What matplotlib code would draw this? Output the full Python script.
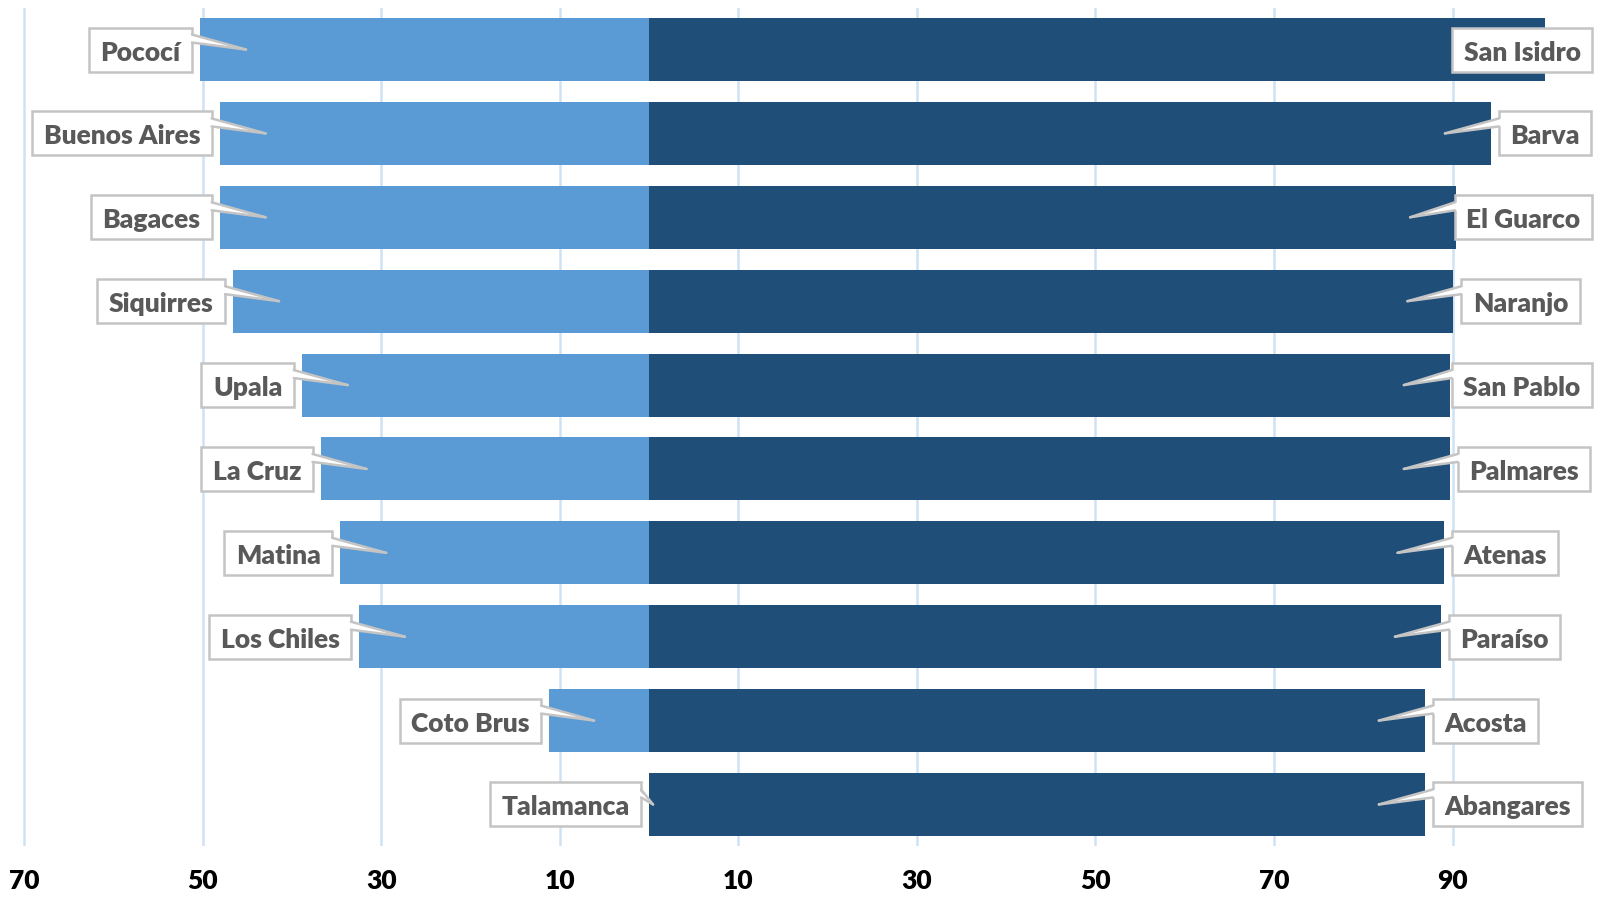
import matplotlib
matplotlib.use("Agg")
import matplotlib.pyplot as plt
from matplotlib.patches import Rectangle, Polygon
from matplotlib.lines import Line2D
import numpy as np

# ---------------- data ----------------
left_names = ["Pococí", "Buenos Aires", "Bagaces", "Siquirres", "Upala",
              "La Cruz", "Matina", "Los Chiles", "Coto Brus", "Talamanca"]
left_values = [50.3, 48.1, 48.1, 46.6, 38.9, 36.8, 34.6, 32.5, 11.2, 0.0]

right_names = ["San Isidro", "Barva", "El Guarco", "Naranjo", "San Pablo",
               "Palmares", "Atenas", "Paraíso", "Acosta", "Abangares"]
right_values = [100.4, 94.3, 90.4, 90.1, 89.7, 89.7, 89.0, 88.7, 86.9, 86.9]

tick_values = [-70, -50, -30, -10, 10, 30, 50, 70, 90]
tick_labels = ["70", "50", "30", "10", "10", "30", "50", "70", "90"]

# ---------------- style ----------------
LIGHT = "#5b9bd5"
DARK = "#1f4e79"
GRID = "#cfe2f3"
LABEL_TXT = "#595959"
LABEL_EDGE = "#c4c4c4"
FONT = "Lato"
WEIGHT = "heavy"

W, H = 1607, 900
fig = plt.figure(figsize=(W / 100, H / 100), dpi=100)
top_px, bot_px = 7.6, 846.4
ax = fig.add_axes([0, 1 - bot_px / H, 1, (bot_px - top_px) / H])
ax.set_xlim(-72.7, 107.3)
n = len(left_names)
ax.set_ylim(n - 0.5, -0.5)
y = np.arange(n)

ax.barh(y, -np.array(left_values), height=0.75, color=LIGHT, zorder=2)
ax.barh(y, right_values, height=0.75, color=DARK, zorder=2)

for s in ax.spines.values():
    s.set_visible(False)
ax.set_yticks([])
ax.set_xticks(tick_values, tick_labels)
ax.tick_params(axis="x", length=0, pad=16.5, labelsize=19, labelcolor="black")
for lab in ax.get_xticklabels():
    lab.set_fontweight(WEIGHT)
    lab.set_family(FONT)
ax.grid(axis="x", color=GRID, linewidth=1.8, zorder=0)
ax.grid(axis="y", visible=False)
ax.set_axisbelow(True)

# ---------------- callout labels ----------------
fig.canvas.draw()
renderer = fig.canvas.get_renderer()
inv = ax.transData.inverted()

BOX_H = 44.0
PADX = 11.5
GAP = 8.0
EDGE_LW = 1.8  # points
RIGHT_LIMIT = 1592.0


def px(xv, yv):
    return ax.transData.transform((xv, yv))


def dat(p):
    return inv.transform(p)


def draw_callout(name, end_x, cy, side, inset):
    t = ax.text(0, 0, name, fontsize=19, fontweight=WEIGHT, family=FONT,
                color=LABEL_TXT, ha="left", va="baseline", zorder=6)
    bb = t.get_window_extent(renderer)
    tw = bb.width
    bw = tw + 2 * PADX
    if side == "left":
        bx1 = end_x - GAP
        bx0 = bx1 - bw
        tip_x = end_x + inset
        base_x = bx1
    else:
        bx0 = end_x + GAP
        bx1 = bx0 + bw
        if bx1 > RIGHT_LIMIT:
            bx1 = RIGHT_LIMIT
            bx0 = bx1 - bw
        tip_x = end_x - inset
        base_x = bx0
    by_top = cy + BOX_H / 2
    by_bot = cy - BOX_H / 2
    tx, ty = dat((bx0 + PADX, cy - 11))
    t.set_position((tx, ty))
    (dx0, dy0) = dat((bx0, by_bot))
    (dx1, dy1) = dat((bx1, by_top))
    rect = Rectangle((dx0, dy0), dx1 - dx0, dy1 - dy0, facecolor="white",
                     edgecolor=LABEL_EDGE, linewidth=EDGE_LW, zorder=4)
    ax.add_patch(rect)
    if not (bx0 <= tip_x <= bx1):
        y1 = by_top - 7
        y2 = by_top - 15
        into = -3 if side == "left" else 3
        poly = [dat((base_x + into, y1)), dat((tip_x, cy)), dat((base_x + into, y2))]
        ax.add_patch(Polygon(poly, closed=True, facecolor="white",
                             edgecolor="none", zorder=5))
        for yy in (y1, y2):
            a = dat((base_x, yy))
            b = dat((tip_x, cy))
            ax.add_line(Line2D([a[0], b[0]], [a[1], b[1]], color=LABEL_EDGE,
                               linewidth=EDGE_LW, zorder=5,
                               solid_capstyle="round"))


for i in range(n):
    zx, cy = px(0, i)
    ex, _ = px(-left_values[i], i)
    length = zx - ex
    inset = min(46.0, max(4.0, length * 0.45))
    draw_callout(left_names[i], ex, cy, "left", inset)

    ex2, _ = px(right_values[i], i)
    draw_callout(right_names[i], ex2, cy, "right", 46.0)

fig.savefig("out.png", dpi=100)
